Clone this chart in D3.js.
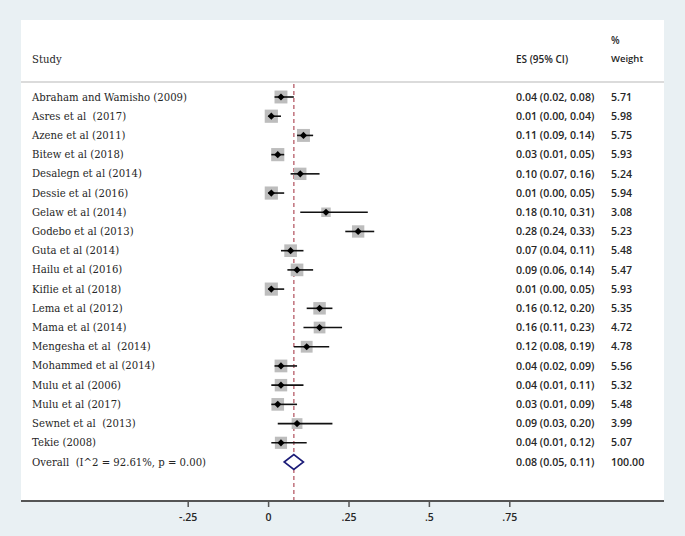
<!DOCTYPE html>
<html><head><meta charset="utf-8">
<script src="https://cdn.jsdelivr.net/npm/d3@7"></script>
<style>
html,body{margin:0;padding:0;background:#e9f0f3;}
svg{display:block;}
text{white-space:pre;}
</style></head>
<body>
<script>
const studies = ["Abraham and Wamisho (2009)","Asres et al  (2017)","Azene et al (2011)","Bitew et al (2018)","Desalegn et al (2014)","Dessie et al (2016)","Gelaw et al (2014)","Godebo et al (2013)","Guta et al (2014)","Hailu et al (2016)","Kiflie et al (2018)","Lema et al (2012)","Mama et al (2014)","Mengesha et al  (2014)","Mohammed et al (2014)","Mulu et al (2006)","Mulu et al (2017)","Sewnet et al  (2013)","Tekie (2008)"];
const es =      [0.04,0.01,0.11,0.03,0.10,0.01,0.18,0.28,0.07,0.09,0.01,0.16,0.16,0.12,0.04,0.04,0.03,0.09,0.04];
const ciLow =   [0.02,0.00,0.09,0.01,0.07,0.00,0.10,0.24,0.04,0.06,0.00,0.12,0.11,0.08,0.02,0.01,0.01,0.03,0.01];
const ciHigh =  [0.08,0.04,0.14,0.05,0.16,0.05,0.31,0.33,0.11,0.14,0.05,0.20,0.23,0.19,0.09,0.11,0.09,0.20,0.12];
const weights = [5.71,5.98,5.75,5.93,5.24,5.94,3.08,5.23,5.48,5.47,5.93,5.35,4.72,4.78,5.56,5.32,5.48,3.99,5.07];
const overallLabel = "Overall  (I^2 = 92.61%, p = 0.00)";
const overallValues = [0.08, 0.05, 0.11]; // ES, low, high
const overallWeight = 100.00;
const tickValues = [-0.25, 0, 0.25, 0.5, 0.75];
const tickLabels = ["-.25", "0", ".25", ".5", ".75"];

const W = 685, H = 536;
const svg = d3.select("body").append("svg").attr("width", W).attr("height", H);
svg.append("rect").attr("width", W).attr("height", H).attr("fill", "#e9f0f3");
const panel = {x0: 21, x1: 664, y0: 20, y1: 501};
svg.append("rect").attr("x", panel.x0).attr("y", panel.y0)
  .attr("width", panel.x1 - panel.x0).attr("height", panel.y1 - panel.y0).attr("fill", "#ffffff");

const x = d3.scaleLinear().domain([-0.25, 0.75]).range([187.7, 509.3]);
const rows = d3.range(studies.length + 1);
const y = d3.scalePoint().domain(rows).range([97, 462]);

const serif = "DejaVu Serif";
const sans = "'Open Sans', sans-serif";
const textCol = "#262626";
const serifSize = 10.1, numSize = 10.6;

// header
svg.append("text").attr("x", 32).attr("y", 59).attr("dy", "0.35em")
  .attr("font-family", serif).attr("font-size", serifSize).attr("fill", textCol).text("Study");
svg.append("text").attr("x", 516).attr("y", 59).attr("dy", "0.35em")
  .attr("font-family", sans).attr("font-size", 10).attr("font-weight", 600).attr("fill", textCol).text("ES (95% CI)");
svg.append("text").attr("x", 611).attr("y", 40).attr("dy", "0.35em")
  .attr("font-family", sans).attr("font-size", 10).attr("font-weight", 600).attr("fill", textCol).text("%");
svg.append("text").attr("x", 611).attr("y", 59).attr("dy", "0.35em")
  .attr("font-family", sans).attr("font-size", 9.5).attr("font-weight", 600).attr("fill", textCol).text("Weight");
svg.append("line").attr("x1", panel.x0).attr("x2", panel.x1).attr("y1", 82).attr("y2", 82)
  .attr("stroke", "#cfcfcf").attr("stroke-width", 1.5);

// dashed overall line
svg.append("line").attr("x1", x(overallValues[0])).attr("x2", x(overallValues[0]))
  .attr("y1", 84).attr("y2", 500)
  .attr("stroke", "#c47a84").attr("stroke-width", 1.6).attr("stroke-dasharray", "4,3");

const fmt = d3.format(".2f");
const data = studies.map((s, i) => ({s, es: es[i], lo: ciLow[i], hi: ciHigh[i], w: weights[i], i}));

// labels
svg.append("g").selectAll("text").data(data).join("text")
  .attr("x", 32).attr("y", d => y(d.i)).attr("dy", "0.35em")
  .attr("font-family", serif).attr("font-size", serifSize).attr("fill", textCol).text(d => d.s);
svg.append("g").selectAll("text").data(data).join("text")
  .attr("x", 516).attr("y", d => y(d.i)).attr("dy", "0.35em")
  .attr("font-family", sans).attr("font-size", numSize).attr("font-weight", 600).attr("fill", textCol)
  .text(d => `${fmt(d.es)} (${fmt(d.lo)}, ${fmt(d.hi)})`);
svg.append("g").selectAll("text").data(data).join("text")
  .attr("x", 611).attr("y", d => y(d.i)).attr("dy", "0.35em")
  .attr("font-family", sans).attr("font-size", numSize).attr("font-weight", 600).attr("fill", textCol)
  .text(d => fmt(d.w));

// squares
const k = 5.4;
svg.append("g").selectAll("rect").data(data).join("rect")
  .attr("x", d => x(d.es) - k * Math.sqrt(d.w) / 2)
  .attr("y", d => y(d.i) - k * Math.sqrt(d.w) / 2)
  .attr("width", d => k * Math.sqrt(d.w)).attr("height", d => k * Math.sqrt(d.w))
  .attr("fill", "#bdbdbd");
// CI lines
svg.append("g").selectAll("line").data(data).join("line")
  .attr("x1", d => x(d.lo)).attr("x2", d => x(d.hi))
  .attr("y1", d => y(d.i)).attr("y2", d => y(d.i))
  .attr("stroke", "#111").attr("stroke-width", 1.6);
// point diamonds
const r = 3.6;
svg.append("g").selectAll("path").data(data).join("path")
  .attr("d", d => { const cx = x(d.es), cy = y(d.i);
    return `M${cx - r},${cy}L${cx},${cy - r}L${cx + r},${cy}L${cx},${cy + r}Z`; })
  .attr("fill", "#000");

// overall row
const oi = studies.length;
svg.append("text").attr("x", 32).attr("y", y(oi)).attr("dy", "0.35em")
  .attr("font-family", serif).attr("font-size", serifSize).attr("fill", textCol).text(overallLabel);
svg.append("text").attr("x", 516).attr("y", y(oi)).attr("dy", "0.35em")
  .attr("font-family", sans).attr("font-size", numSize).attr("font-weight", 600).attr("fill", textCol)
  .text(`${fmt(overallValues[0])} (${fmt(overallValues[1])}, ${fmt(overallValues[2])})`);
svg.append("text").attr("x", 611).attr("y", y(oi)).attr("dy", "0.35em")
  .attr("font-family", sans).attr("font-size", numSize).attr("font-weight", 600).attr("fill", textCol)
  .text(fmt(overallWeight));
{
  const cy = y(oi), h = 7.5;
  svg.append("path")
    .attr("d", `M${x(overallValues[1])},${cy}L${x(overallValues[0])},${cy - h}L${x(overallValues[2])},${cy}L${x(overallValues[0])},${cy + h}Z`)
    .attr("fill", "#fff").attr("stroke", "#1c1c78").attr("stroke-width", 1.6);
}

// axis
const axis = d3.axisBottom(x).tickValues(tickValues)
  .tickFormat((d, i) => tickLabels[i]).tickSize(6).tickSizeOuter(0).tickPadding(7);
const ag = svg.append("g").attr("transform", `translate(0,${panel.y1})`).call(axis);
ag.select(".domain").remove();
ag.selectAll(".tick line").attr("stroke", "#555").attr("stroke-width", 1.5);
ag.selectAll(".tick text").attr("font-family", sans).attr("font-size", 10.5).attr("font-weight", 600).attr("fill", textCol);
svg.append("line").attr("x1", panel.x0).attr("x2", panel.x1).attr("y1", panel.y1).attr("y2", panel.y1)
  .attr("stroke", "#555").attr("stroke-width", 2);
</script>
</body></html>
